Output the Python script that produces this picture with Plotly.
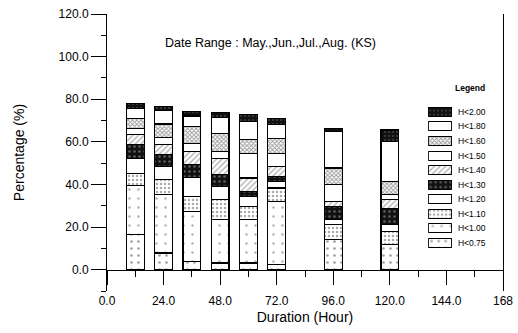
import plotly.graph_objects as go

durations = [12, 24, 36, 48, 60, 72, 96, 120]
classes = ["H<0.75", "H<1.00", "H<1.10", "H<1.20", "H<1.30",
           "H<1.40", "H<1.50", "H<1.60", "H<1.80", "H<2.00"]

h075 = [16.4, 7.8, 3.9, 3.1, 3.1, 2.3, 14.1, 11.7]
h100 = [23.1, 27.4, 23.4, 20.3, 20.3, 29.7, 0.0, 0.0]
h110 = [5.8, 7.0, 7.1, 9.4, 6.3, 6.3, 7.0, 6.3]
h120 = [7.0, 6.2, 9.0, 6.3, 4.7, 3.1, 2.3, 3.1]
h130 = [6.3, 5.8, 6.0, 5.4, 2.3, 2.4, 6.3, 7.8]
h140 = [4.7, 4.4, 6.0, 7.8, 6.3, 4.6, 2.3, 3.9]
h150 = [3.1, 3.6, 4.0, 3.2, 11.7, 6.3, 7.8, 2.4]
h160 = [4.4, 6.2, 7.8, 8.6, 6.3, 7.0, 7.9, 6.2]
h180 = [5.0, 6.2, 4.9, 7.2, 8.6, 6.3, 17.2, 18.8]
h200 = [2.3, 2.0, 2.1, 2.3, 3.1, 2.8, 1.5, 5.4]

series = [h075, h100, h110, h120, h130, h140, h150, h160, h180, h200]

x_tickvals = [0, 24, 48, 72, 96, 120, 144, 168]
x_ticktext = ["0.0", "24.0", "48.0", "72.0", "96.0", "120.0", "144.0", "168"]
y_tickvals = [0, 20, 40, 60, 80, 100, 120]

styles = {
    "H<0.75": dict(color="white", pattern=dict(shape=".", fgcolor="#444", bgcolor="white", size=7, solidity=0.12)),
    "H<1.00": dict(color="white", pattern=dict(shape=".", fgcolor="#666", bgcolor="white", size=9, solidity=0.06)),
    "H<1.10": dict(color="white", pattern=dict(shape=".", fgcolor="#555", bgcolor="white", size=4, solidity=0.3)),
    "H<1.20": dict(color="white", pattern=dict(shape="")),
    "H<1.30": dict(color="#111", pattern=dict(shape=".", fgcolor="#aaa", bgcolor="#111", size=5, solidity=0.2)),
    "H<1.40": dict(color="white", pattern=dict(shape="/", fgcolor="#555", bgcolor="white", size=4, solidity=0.3)),
    "H<1.50": dict(color="white", pattern=dict(shape="")),
    "H<1.60": dict(color="white", pattern=dict(shape="x", fgcolor="#333", bgcolor="white", size=3, solidity=0.5)),
    "H<1.80": dict(color="white", pattern=dict(shape="")),
    "H<2.00": dict(color="#111", pattern=dict(shape=".", fgcolor="#777", bgcolor="#111", size=4, solidity=0.2)),
}

fig = go.Figure()
for name, vals in zip(classes, series):
    st = styles[name]
    fig.add_trace(go.Bar(
        x=durations, y=vals, name=name, width=7.5, showlegend=False,
        marker=dict(color=st["color"], pattern=st["pattern"],
                    line=dict(color="black", width=1.2)),
    ))
    # legend swatch drawn on an inset axis
    fig.add_trace(go.Bar(
        y=[name], x=[1], orientation="h", width=0.62, showlegend=False,
        xaxis="x2", yaxis="y2", hoverinfo="skip",
        marker=dict(color=st["color"], pattern=st["pattern"],
                    line=dict(color="black", width=1)),
    ))

ymin = -10
fig.update_layout(
    width=518, height=333,
    margin=dict(l=107, r=15, t=14, b=42),
    barmode="stack",
    paper_bgcolor="white", plot_bgcolor="rgba(0,0,0,0)",
    font=dict(family="Liberation Sans, Arial, sans-serif", color="black", size=12),
    showlegend=False,
    xaxis=dict(
        range=[0, 168], anchor="free", position=(0 - ymin) / (120 - ymin),
        automargin=False, ticklabeloverflow="allow",
        showline=True, linecolor="black", linewidth=1,
        tickvals=x_tickvals, ticktext=x_ticktext,
        ticks="outside", ticklen=14, tickcolor="black", tickwidth=1,
        minor=dict(tickvals=[12, 36, 60, 84, 108, 132, 156], ticks="outside", ticklen=6, tickcolor="black"),
        ticklabelstandoff=6,
        showgrid=False, zeroline=False,
        title=dict(text="Duration (Hour)", font=dict(size=14), standoff=5),
    ),
    yaxis=dict(
        range=[ymin, 120], automargin=False,
        showline=True, linecolor="black", linewidth=1, mirror=True,
        tickvals=y_tickvals, tickformat=".1f", ticklabeloverflow="allow",
        ticks="outside", ticklen=15, tickcolor="black", tickwidth=1,
        minor=dict(dtick=10, ticks="outside", ticklen=5, tickcolor="black"),
        showgrid=False, zeroline=False,
        title=dict(text="Percentage (%)", font=dict(size=14), standoff=30),
    ),
    xaxis2=dict(domain=[0.811, 0.871], range=[0, 1], anchor="y2", visible=False, fixedrange=True),
    yaxis2=dict(
        domain=[0.147, 0.673], anchor="x2", side="right",
        categoryorder="array", categoryarray=classes,
        showline=False, ticks="", showgrid=False, zeroline=False,
        tickfont=dict(size=8.5), ticklabelstandoff=5, automargin=False, fixedrange=True,
    ),
    annotations=[
        dict(text="Date Range : May.,Jun.,Jul.,Aug. (KS)",
             xref="paper", yref="paper", x=0.414, y=0.895,
             xanchor="center", yanchor="middle", showarrow=False,
             font=dict(size=12.5)),
        dict(text="<b>Legend</b>",
             xref="paper", yref="paper", x=0.917, y=0.733,
             xanchor="center", yanchor="middle", showarrow=False,
             font=dict(size=8.5)),
    ],
)

fig.write_html("out.html",
               config={"displayModeBar": False},
               post_script="document.body.style.margin='0px';document.body.style.overflow='hidden';")
